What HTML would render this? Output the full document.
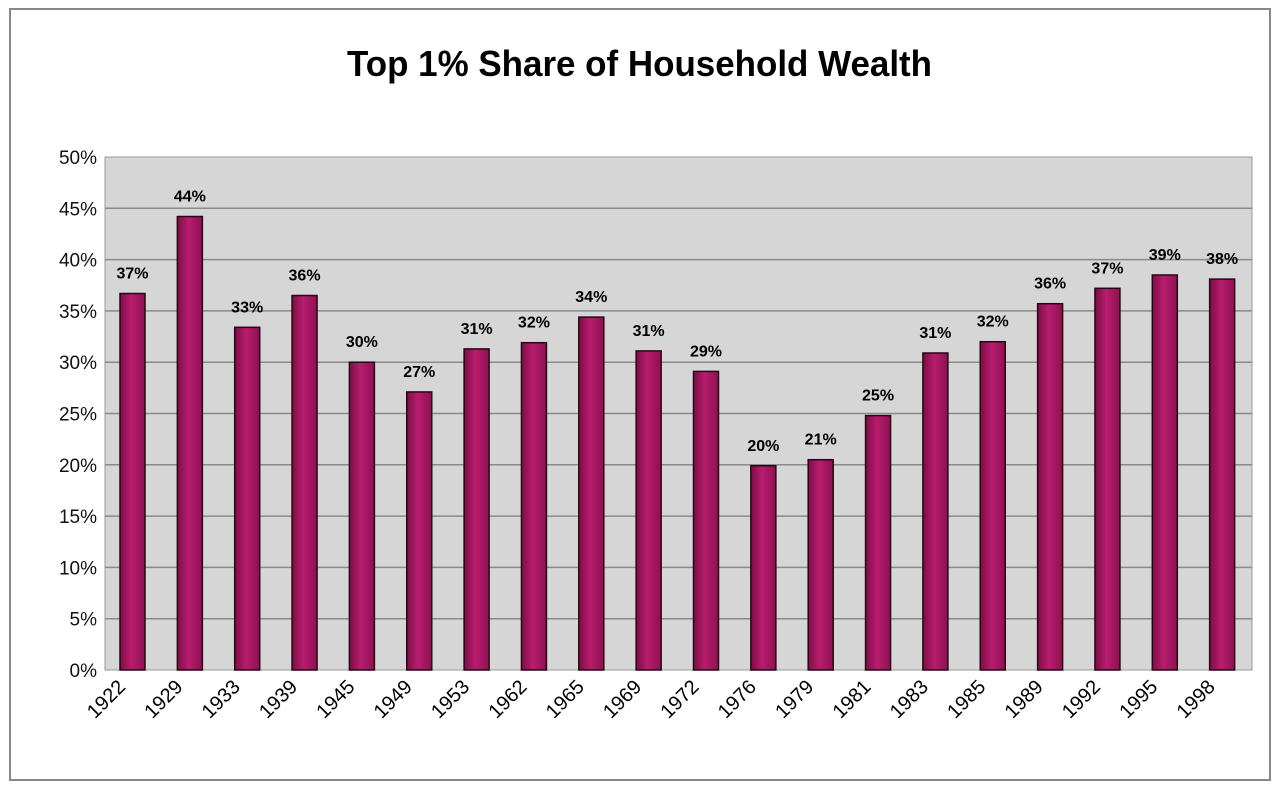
<!DOCTYPE html>
<html><head><style>
html,body{margin:0;padding:0;background:#fff;}
svg{display:block;}
</style></head><body>
<svg width="1280" height="791" viewBox="0 0 1280 791" xmlns="http://www.w3.org/2000/svg">
<defs>
<linearGradient id="bg1" x1="0" x2="1" y1="0" y2="0">
<stop offset="0" stop-color="#7a0f45"/><stop offset="0.45" stop-color="#b81c6e"/><stop offset="1" stop-color="#8c1252"/>
</linearGradient>
</defs>
<rect x="10" y="9" width="1260" height="771" fill="#fff" stroke="#888" stroke-width="2"/>
<text x="347" y="76" textLength="585" lengthAdjust="spacingAndGlyphs" font-family="'Liberation Sans',sans-serif" font-weight="bold" font-size="36" fill="#000">Top 1% Share of Household Wealth</text>
<rect x="105" y="157" width="1147" height="513" fill="#d6d6d6" stroke="#999" stroke-width="1"/>
<g stroke="#8a8a8a" stroke-width="1.5">
<line x1="105" x2="1252" y1="618.7" y2="618.7"/><line x1="105" x2="1252" y1="567.4" y2="567.4"/>
<line x1="105" x2="1252" y1="516.1" y2="516.1"/><line x1="105" x2="1252" y1="464.8" y2="464.8"/>
<line x1="105" x2="1252" y1="413.5" y2="413.5"/><line x1="105" x2="1252" y1="362.2" y2="362.2"/>
<line x1="105" x2="1252" y1="310.9" y2="310.9"/><line x1="105" x2="1252" y1="259.6" y2="259.6"/>
<line x1="105" x2="1252" y1="208.3" y2="208.3"/>
</g>
<g font-family="'Liberation Sans',sans-serif" font-size="19" fill="#111" text-anchor="end">
<text x="97" y="677">0%</text><text x="97" y="625.7">5%</text><text x="97" y="574.4">10%</text>
<text x="97" y="523.1">15%</text><text x="97" y="471.8">20%</text><text x="97" y="420.5">25%</text>
<text x="97" y="369.2">30%</text><text x="97" y="317.9">35%</text><text x="97" y="266.6">40%</text>
<text x="97" y="215.3">45%</text><text x="97" y="164">50%</text>
</g>
<g stroke="#2a0515" stroke-width="1.5" fill="url(#bg1)">
<rect x="120" y="293.5" width="25" height="376.5"/>
<rect x="177.35" y="216.5" width="25" height="453.5"/>
<rect x="234.7" y="327.3" width="25" height="342.7"/>
<rect x="292.05" y="295.5" width="25" height="374.5"/>
<rect x="349.4" y="362.2" width="25" height="307.8"/>
<rect x="406.75" y="391.95" width="25" height="278.05"/>
<rect x="464.1" y="348.9" width="25" height="321.1"/>
<rect x="521.45" y="342.7" width="25" height="327.3"/>
<rect x="578.8" y="317.1" width="25" height="352.9"/>
<rect x="636.15" y="350.9" width="25" height="319.1"/>
<rect x="693.5" y="371.4" width="25" height="298.6"/>
<rect x="750.85" y="465.8" width="25" height="204.2"/>
<rect x="808.2" y="459.7" width="25" height="210.3"/>
<rect x="865.55" y="415.6" width="25" height="254.4"/>
<rect x="922.9" y="353" width="25" height="317"/>
<rect x="980.25" y="341.7" width="25" height="328.3"/>
<rect x="1037.6" y="303.7" width="25" height="366.3"/>
<rect x="1094.95" y="288.3" width="25" height="381.7"/>
<rect x="1152.3" y="275" width="25" height="395"/>
<rect x="1209.65" y="279.1" width="25" height="390.9"/>
</g>
<g font-family="'Liberation Sans',sans-serif" font-weight="bold" font-size="16" fill="#000" text-anchor="middle">
<text x="132.5" y="278.5">37%</text><text x="189.85" y="201.5">44%</text><text x="247.2" y="312.3">33%</text>
<text x="304.55" y="280.5">36%</text><text x="361.9" y="347.2">30%</text><text x="419.25" y="376.95">27%</text>
<text x="476.6" y="333.9">31%</text><text x="533.95" y="327.7">32%</text><text x="591.3" y="302.1">34%</text>
<text x="648.65" y="335.9">31%</text><text x="706" y="356.4">29%</text><text x="763.35" y="450.8">20%</text>
<text x="820.7" y="444.7">21%</text><text x="878.05" y="400.6">25%</text><text x="935.4" y="338">31%</text>
<text x="992.75" y="326.7">32%</text><text x="1050.1" y="288.7">36%</text><text x="1107.45" y="273.3">37%</text>
<text x="1164.8" y="260">39%</text><text x="1222.15" y="264.1">38%</text>
</g>
<g font-family="'Liberation Sans',sans-serif" font-size="20" fill="#000" text-anchor="end">
<text transform="translate(126.5 688) rotate(-45)">1922</text>
<text transform="translate(183.85 688) rotate(-45)">1929</text>
<text transform="translate(241.2 688) rotate(-45)">1933</text>
<text transform="translate(298.55 688) rotate(-45)">1939</text>
<text transform="translate(355.9 688) rotate(-45)">1945</text>
<text transform="translate(413.25 688) rotate(-45)">1949</text>
<text transform="translate(470.6 688) rotate(-45)">1953</text>
<text transform="translate(527.95 688) rotate(-45)">1962</text>
<text transform="translate(585.3 688) rotate(-45)">1965</text>
<text transform="translate(642.65 688) rotate(-45)">1969</text>
<text transform="translate(700 688) rotate(-45)">1972</text>
<text transform="translate(757.35 688) rotate(-45)">1976</text>
<text transform="translate(814.7 688) rotate(-45)">1979</text>
<text transform="translate(872.05 688) rotate(-45)">1981</text>
<text transform="translate(929.4 688) rotate(-45)">1983</text>
<text transform="translate(986.75 688) rotate(-45)">1985</text>
<text transform="translate(1044.1 688) rotate(-45)">1989</text>
<text transform="translate(1101.45 688) rotate(-45)">1992</text>
<text transform="translate(1158.8 688) rotate(-45)">1995</text>
<text transform="translate(1216.15 688) rotate(-45)">1998</text>
</g>
</svg>
</body></html>
